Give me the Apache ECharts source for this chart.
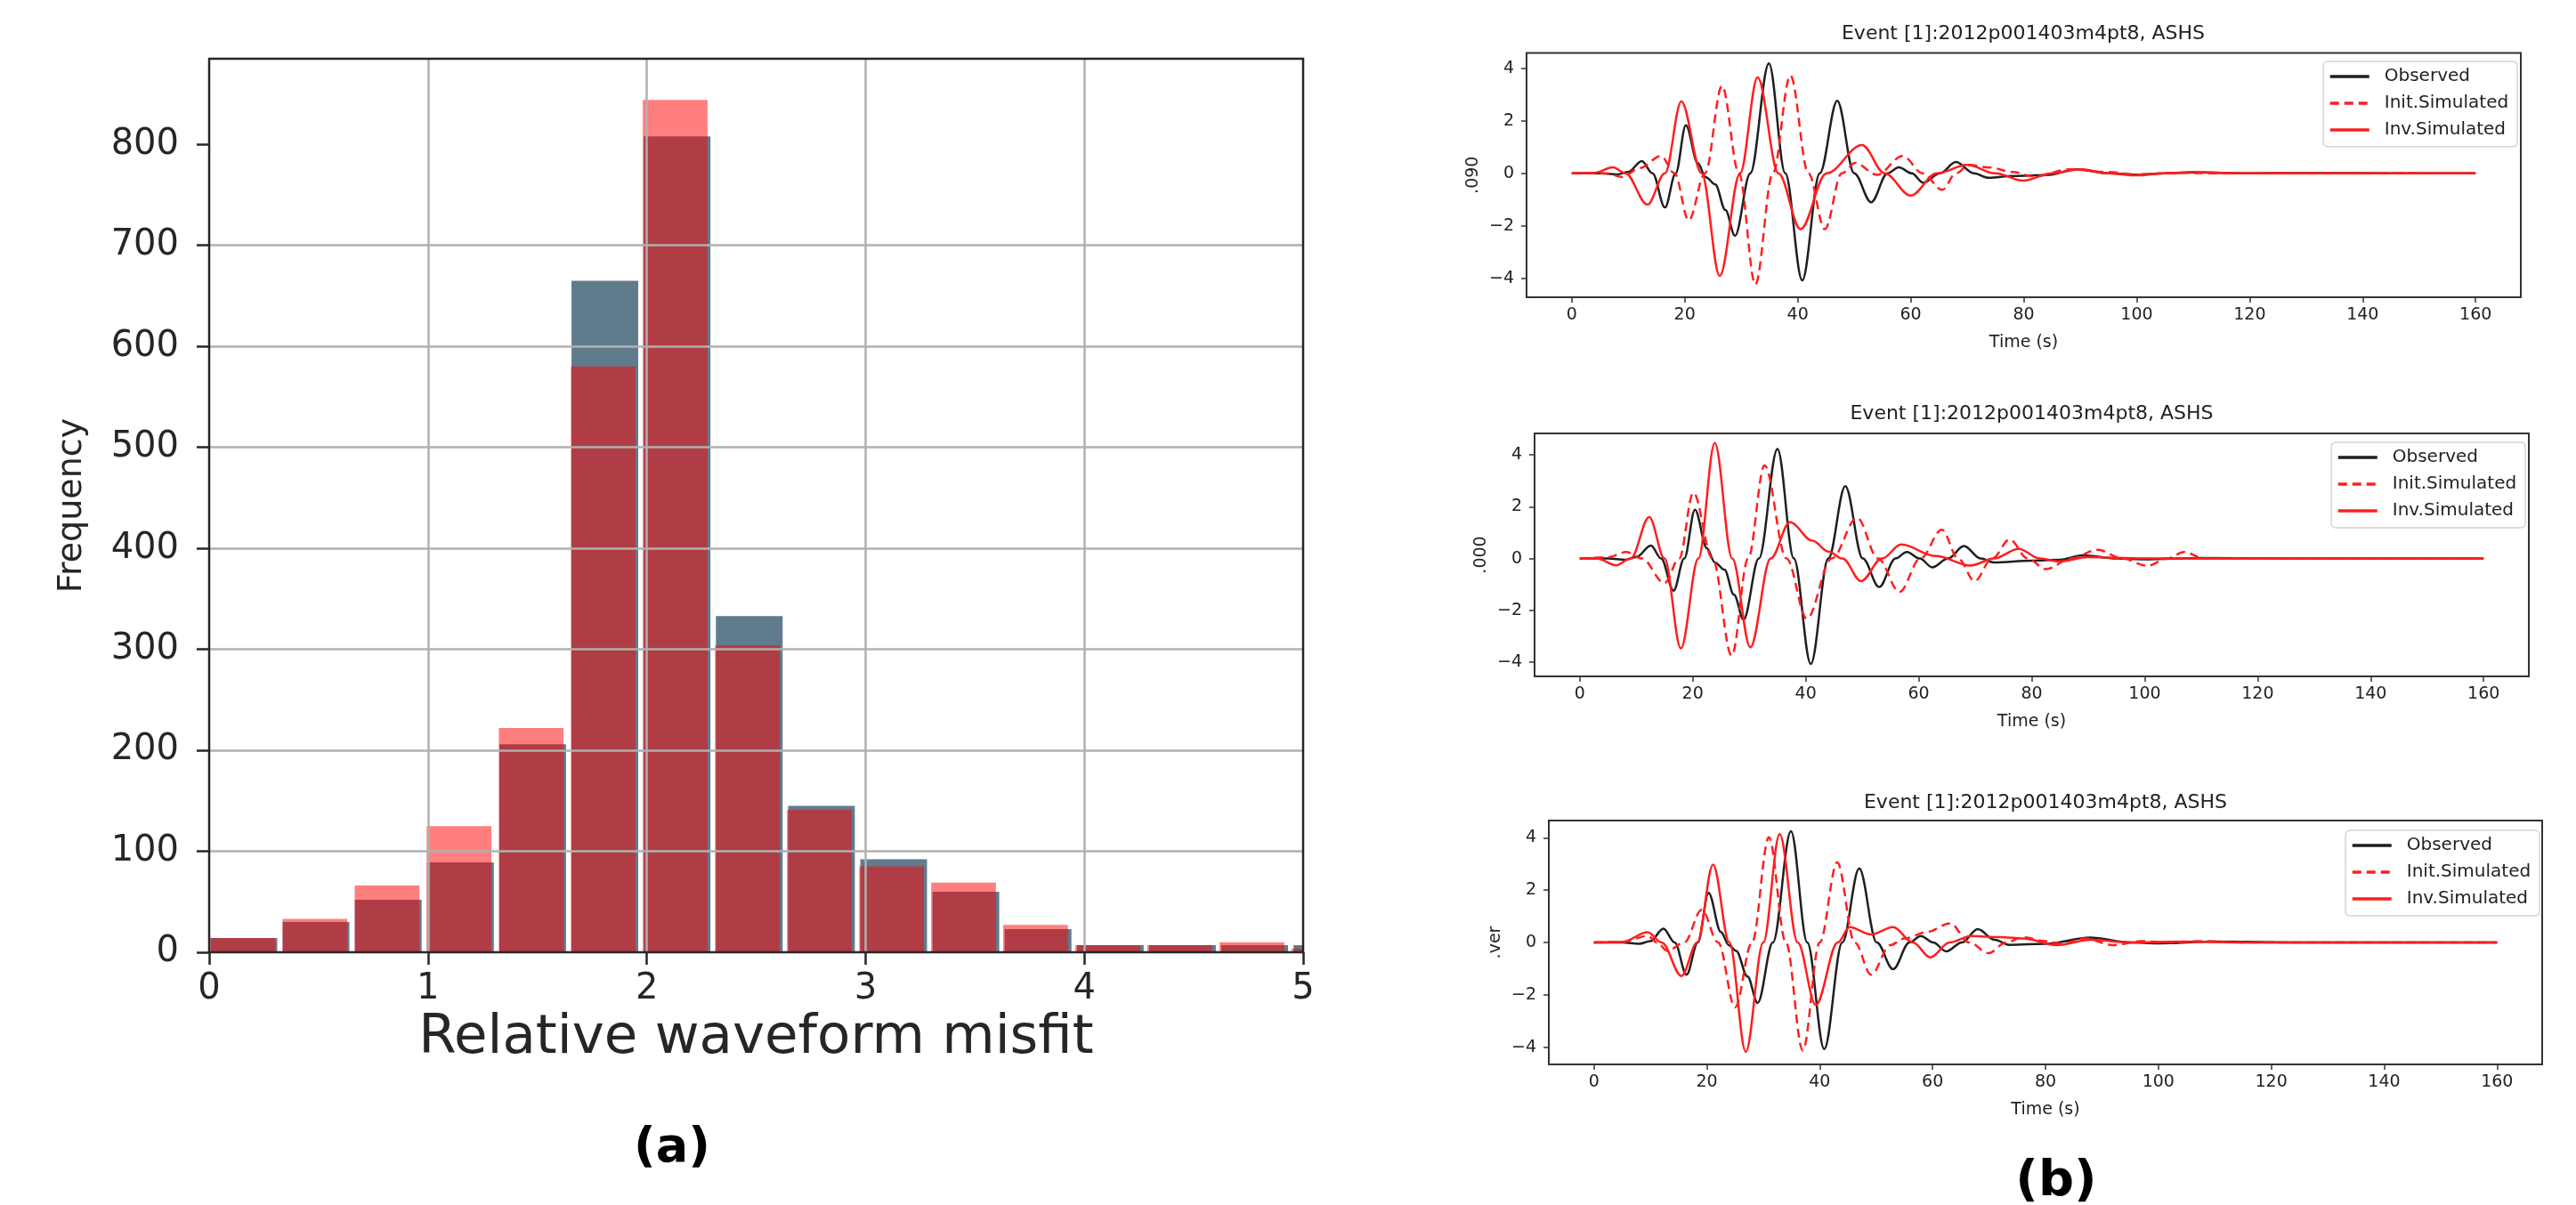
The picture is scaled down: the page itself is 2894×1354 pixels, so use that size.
<!DOCTYPE html>
<html><head><meta charset="utf-8">
<script src="https://cdn.jsdelivr.net/npm/echarts@6/dist/echarts.min.js"></script>
<style>html,body{margin:0;padding:0;background:#fff}#c{width:2894px;height:1354px}</style>
</head><body><div id="c"></div>
<script>
// ---------- Histogram (a) ----------
const histXTicks = [0, 1, 2, 3, 4, 5];
const histYTicks = [0, 100, 200, 300, 400, 500, 600, 700, 800];
const grayBinLeft = [0.006,0.336,0.666,0.996,1.326,1.656,1.986,2.316,2.646,2.976,3.306,3.636,3.966,4.296,4.626,4.956];
const grayCounts  = [14, 30, 52, 89, 206, 665, 808, 333, 145, 92, 60, 23, 7, 7, 7, 7];
const redBinLeft  = [0.006,0.335,0.665,0.994,1.324,1.653,1.982,2.312,2.641,2.971,3.300,3.629,3.959,4.288,4.618,4.947];
const redCounts   = [14, 33, 66, 125, 222, 580, 844, 304, 141, 85, 69, 27, 7, 7, 10, 3.5];

// ---------- Waveforms (b) ----------
const waveXTicks = [0, 20, 40, 60, 80, 100, 120, 140, 160];
const waveYTicks = [-4, -2, 0, 2, 4];
const seriesNames = ['Observed', 'Init.Simulated', 'Inv.Simulated'];
const panelTitle = 'Event [1]:2012p001403m4pt8, ASHS';
const channelNames = ['.090', '.000', '.ver'];

const obs1 = [[0,0],[5,0],[8,-0.04],[10,0.05],[12.4,0.47],[14.3,0],[16.5,-1.30],[18.4,0],[20.2,1.83],[22.3,0.4],[23.7,-0.14],[25.4,-0.42],[27.2,-1.4],[28.9,-2.38],[31.6,0],[34.9,4.19],[37.8,0],[40.8,-4.08],[43.9,0],[47.0,2.76],[50.0,0],[53.0,-1.10],[55.9,0],[57.9,0.23],[60.2,0],[62.2,-0.36],[65.2,0],[68.0,0.43],[71.2,0],[73.8,-0.17],[78,-0.1],[84,-0.07],[89.4,0.15],[95,0],[100,-0.05],[105,0],[110,0.03],[120,0],[130,0.01],[145,0],[160,0]];
const init1 = [[0,0],[6,0],[9,-0.14],[12,0.2],[15.8,0.66],[18.2,0],[20.7,-1.79],[23.6,0],[26.6,3.33],[29.6,0],[32.5,-4.23],[35.6,0],[38.7,3.73],[41.9,0],[44.8,-2.13],[47.8,0],[50.2,0.40],[54,-0.06],[58.6,0.66],[62.1,0],[65.6,-0.63],[68,0],[70.3,0.32],[74,0.22],[78,0.05],[82,-0.12],[88,0.15],[95,0.05],[100,-0.05],[106,0.02],[115,0],[130,0.01],[160,0]];
const inv1  = [[0,0],[4,0.02],[7.3,0.23],[9.5,0],[13.4,-1.19],[16.5,0],[19.4,2.74],[23.0,0],[26.2,-3.91],[29.8,0],[32.9,3.65],[36.6,0],[40.5,-2.13],[45.1,0],[51.4,1.08],[55.4,0],[60.0,-0.85],[64.6,0],[70.0,0.32],[75,0],[79.9,-0.28],[85,0],[90.1,0.15],[95,0],[100,-0.08],[105,0],[110,0.05],[118,0],[160,0]];

const obs2 = [[0,0],[5,0],[8,-0.05],[10,0.05],[12.6,0.50],[14.4,0],[16.6,-1.24],[18.5,0],[20.4,1.88],[22.5,0.4],[23.9,-0.15],[25.6,-0.43],[27.3,-1.4],[29.0,-2.36],[31.7,0],[35.0,4.23],[37.9,0],[40.9,-4.07],[44.0,0],[47.0,2.79],[50.1,0],[53.0,-1.10],[55.9,0],[57.9,0.25],[60.2,0],[62.4,-0.34],[65.2,0],[68.0,0.48],[71,0],[73.3,-0.15],[80,-0.08],[85,-0.05],[89,0.12],[95,0],[100,-0.03],[110,0.02],[125,0],[160,0]];
const init2 = [[0,0],[5,0.05],[8.2,0.25],[11,0],[15,-0.95],[17.6,0],[20.1,2.54],[23.5,0],[26.9,-3.75],[29.8,0],[32.7,3.59],[36.6,0],[40.2,-2.32],[44.6,0],[49.1,1.57],[52.8,0],[56.6,-1.29],[60.3,0],[64.1,1.11],[67,0],[69.9,-0.87],[73,0],[76.1,0.73],[79.3,0],[82.5,-0.41],[87,0],[91.7,0.34],[96,0],[100.5,-0.28],[104,0],[107,0.25],[110.5,0],[115,0],[160,0]];
const inv2  = [[0,0],[3,0],[6.5,-0.26],[9,0],[12.3,1.60],[15,0],[17.9,-3.47],[21,0],[23.9,4.46],[27,0],[30.2,-3.43],[33.8,0],[37.2,1.40],[41.2,0.69],[44,0.27],[46.5,0],[49.8,-0.87],[53.5,0],[56.9,0.54],[63,0.1],[69.2,-0.27],[73.3,0],[77.7,0.37],[81.5,0],[84.9,-0.11],[90,0.05],[100,0],[160,0]];

const obs3 = [[0,0],[5,0],[8,-0.05],[10,0.05],[12.3,0.53],[14.3,0],[16.4,-1.23],[18.4,0],[20.3,1.90],[22.5,0.4],[23.9,-0.1],[25.2,-0.32],[27.2,-1.3],[29.0,-2.31],[31.7,0],[34.9,4.25],[37.8,0],[40.8,-4.07],[44.0,0],[47.0,2.83],[50.1,0],[53.0,-1.02],[55.9,0],[57.9,0.25],[60.1,0],[62.4,-0.34],[65.2,0],[68.0,0.51],[71,0.1],[73.6,-0.09],[80,-0.05],[87.9,0.19],[95,0],[100,-0.03],[110,0.03],[125,0],[160,0]];
const init3 = [[0,0],[5,0.02],[9.5,0.25],[11.2,0],[13,-0.32],[16,0],[19.1,1.25],[22,0],[25.0,-2.48],[28,0],[31.0,4.02],[34,0],[37.0,-4.13],[40,0],[43.1,3.06],[46.2,0],[49.1,-1.23],[52.5,-0.1],[55,0.15],[59,0.4],[63.1,0.73],[66.5,0],[69.9,-0.41],[73,0],[76,0.2],[80,0.05],[83,-0.05],[87,0.15],[92,-0.1],[97,0.05],[102,0],[108,0.05],[115,0],[160,0]];
const inv3  = [[0,0],[5,0.02],[9.5,0.39],[12,0],[15.5,-1.28],[18.3,0],[21.1,2.98],[24,0],[26.9,-4.18],[30,0],[32.9,4.14],[36.1,0],[39.3,-2.39],[43.2,0],[45.3,0.59],[49.1,0.31],[53.0,0.59],[56.5,0],[59.6,-0.57],[63,0],[66.8,0.25],[72,0.2],[76,0.15],[82,-0.1],[88,0.1],[95,0],[105,0.03],[115,0],[160,0]];

const panels = [
  {obs: obs1, init: init1, inv: inv1},
  {obs: obs2, init: init2, inv: inv2},
  {obs: obs3, init: init3, inv: inv3}
];

// ---------- layout / style ----------
const FONT = 'DejaVu Sans';
const GRAY_W = 0.305, RED_W = 0.296;
const histGrid = {left: 235, top: 66, width: 1229, height: 1004};
const waveGrids = [
  {left: 1715, top: 59.5, width: 1117, height: 274.5, ymin: -4.72, ymax: 4.585, legend: [2610, 69], title: [2273, 38.6], ylab: 50},
  {left: 1724, top: 487, width: 1117, height: 273, ymin: -4.55, ymax: 4.83, legend: [2619, 497], title: [2282.5, 465], ylab: 50},
  {left: 1740, top: 922, width: 1116, height: 274, ymin: -4.66, ymax: 4.66, legend: [2635, 933], title: [2298, 902], ylab: 50}
];
const minusFmt = v => String(v).replace('-', '\u2212');

function barRenderer(w) {
  return function (params, api) {
    const x0 = api.value(0), h = api.value(1);
    const a = api.coord([x0, h]);
    const b = api.coord([x0 + w, 0]);
    const cs = params.coordSys;
    const r = echarts.graphic.clipRectByRect(
      {x: a[0], y: a[1], width: b[0] - a[0], height: b[1] - a[1]},
      {x: cs.x, y: cs.y, width: cs.width, height: cs.height});
    return r && {type: 'rect', shape: r, style: {fill: api.visual('color')}};
  };
}

const grids = [], xAxes = [], yAxes = [], series = [], legends = [], graphics = [];

grids.push({left: histGrid.left, top: histGrid.top, width: histGrid.width, height: histGrid.height,
  show: true, borderColor: '#262626', borderWidth: 2.5, backgroundColor: 'transparent', z: 10,
  containLabel: false, outerBoundsMode: 'none'});
xAxes.push({type: 'value', gridIndex: 0, min: 0, max: 5, interval: 1, z: 5,
  name: 'Relative waveform misfit', nameLocation: 'middle', nameGap: 56,
  nameTextStyle: {fontFamily: FONT, fontSize: 61, color: '#262626'},
  axisLine: {show: false, onZero: false},
  axisTick: {show: true, length: 14, lineStyle: {color: '#262626', width: 2.5}, customValues: histXTicks},
  axisLabel: {customValues: histXTicks, margin: 22, fontFamily: FONT, fontSize: 40, color: '#262626'},
  splitLine: {show: true, showMinLine: false, showMaxLine: false, lineStyle: {color: '#b0b0b0', width: 2.5}}});
yAxes.push({type: 'value', gridIndex: 0, min: 0, max: 884.8, interval: 100, z: 5,
  name: 'Frequency', nameLocation: 'middle', nameGap: 135, nameRotate: 90,
  nameTextStyle: {fontFamily: FONT, fontSize: 38, color: '#262626'},
  axisLine: {show: false, onZero: false},
  axisTick: {show: true, length: 14, lineStyle: {color: '#262626', width: 2.5}, customValues: histYTicks},
  axisLabel: {customValues: histYTicks, margin: 34, fontFamily: FONT, fontSize: 40, color: '#262626'},
  splitLine: {show: true, showMinLine: false, showMaxLine: false, lineStyle: {color: '#b0b0b0', width: 2.5}}});
series.push({type: 'custom', name: 'histGray', xAxisIndex: 0, yAxisIndex: 0, z: 2,
  renderItem: barRenderer(GRAY_W), itemStyle: {color: '#607b8c'}, encode: {x: 0, y: 1},
  data: grayBinLeft.map((x, i) => [x, grayCounts[i]])});
series.push({type: 'custom', name: 'histRed', xAxisIndex: 0, yAxisIndex: 0, z: 3,
  renderItem: barRenderer(RED_W), itemStyle: {color: 'rgba(255,0,0,0.5)'}, encode: {x: 0, y: 1},
  data: redBinLeft.map((x, i) => [x, redCounts[i]])});

waveGrids.forEach((g, k) => {
  const gi = k + 1;
  grids.push({left: g.left, top: g.top, width: g.width, height: g.height, show: true,
    borderColor: '#333', borderWidth: 2, backgroundColor: 'transparent', z: 10,
    containLabel: false, outerBoundsMode: 'none'});
  xAxes.push({type: 'value', gridIndex: gi, min: -8, max: 168, position: 'bottom',
    name: 'Time (s)', nameLocation: 'middle', nameGap: 42,
    nameTextStyle: {fontFamily: FONT, fontSize: 19, color: '#222'},
    axisLine: {show: false, onZero: false}, splitLine: {show: false},
    axisTick: {show: true, length: 6, lineStyle: {color: '#333', width: 1.5}, customValues: waveXTicks},
    axisLabel: {customValues: waveXTicks, margin: 11, fontFamily: FONT, fontSize: 19, color: '#222', formatter: minusFmt}});
  yAxes.push({type: 'value', gridIndex: gi, min: g.ymin, max: g.ymax, position: 'left',
    name: channelNames[k], nameLocation: 'middle', nameGap: g.ylab, nameRotate: 90,
    nameTextStyle: {fontFamily: FONT, fontSize: 19, color: '#222'},
    axisLine: {show: false, onZero: false}, splitLine: {show: false},
    axisTick: {show: true, length: 6, lineStyle: {color: '#333', width: 1.5}, customValues: waveYTicks},
    axisLabel: {customValues: waveYTicks, margin: 14, fontFamily: FONT, fontSize: 19, color: '#222', formatter: minusFmt}});
  const p = panels[k];
  const common = {type: 'line', xAxisIndex: gi, yAxisIndex: gi, symbol: 'none', showSymbol: false,
    smooth: 0.35, smoothMonotone: 'x', animation: false};
  series.push(Object.assign({}, common, {name: seriesNames[0], data: p.obs, z: 3,
    lineStyle: {color: '#1f1f1f', width: 2.5}, itemStyle: {color: '#1f1f1f'}}));
  series.push(Object.assign({}, common, {name: seriesNames[1], data: p.init, z: 4,
    lineStyle: {color: '#ff1e1e', width: 2.5, type: [10, 6]}, itemStyle: {color: '#ff1e1e'}}));
  series.push(Object.assign({}, common, {name: seriesNames[2], data: p.inv, z: 5,
    lineStyle: {color: '#ff1e1e', width: 2.5}, itemStyle: {color: '#ff1e1e'}}));
  legends.push({orient: 'vertical', left: g.legend[0], top: g.legend[1], itemWidth: 44, itemHeight: 14,
    itemGap: 8, padding: [6, 10, 8, 6], backgroundColor: '#fff', borderColor: '#d4d4d4', borderWidth: 1.5,
    borderRadius: 5, selectedMode: false, data: seriesNames, z: 20,
    itemStyle: {opacity: 0},
    lineStyle: {width: 3.5},
    textStyle: {fontFamily: FONT, fontSize: 20, color: '#222', lineHeight: 22, padding: [0, 0, 0, 12]}});
  graphics.push({type: 'text', x: g.title[0], y: g.title[1], z: 20,
    style: {text: panelTitle, fontFamily: FONT, fontSize: 22, fill: '#222', align: 'center', verticalAlign: 'middle'}});
});

graphics.push({type: 'text', x: 755, y: 1291, style: {text: '(a)', fontFamily: FONT, fontWeight: 'bold', fontSize: 54, fill: '#000', align: 'center', verticalAlign: 'middle'}});
graphics.push({type: 'text', x: 2310, y: 1300, style: {text: '(b)', fontFamily: FONT, fontWeight: 'bold', fontSize: 56, fill: '#000', align: 'center', verticalAlign: 'top'}});

const chart = echarts.init(document.getElementById('c'), null, {renderer: 'canvas'});
chart.setOption({
  animation: false,
  backgroundColor: '#fff',
  grid: grids, xAxis: xAxes, yAxis: yAxes, series: series, legend: legends,
  graphic: graphics
});
</script></body></html>
